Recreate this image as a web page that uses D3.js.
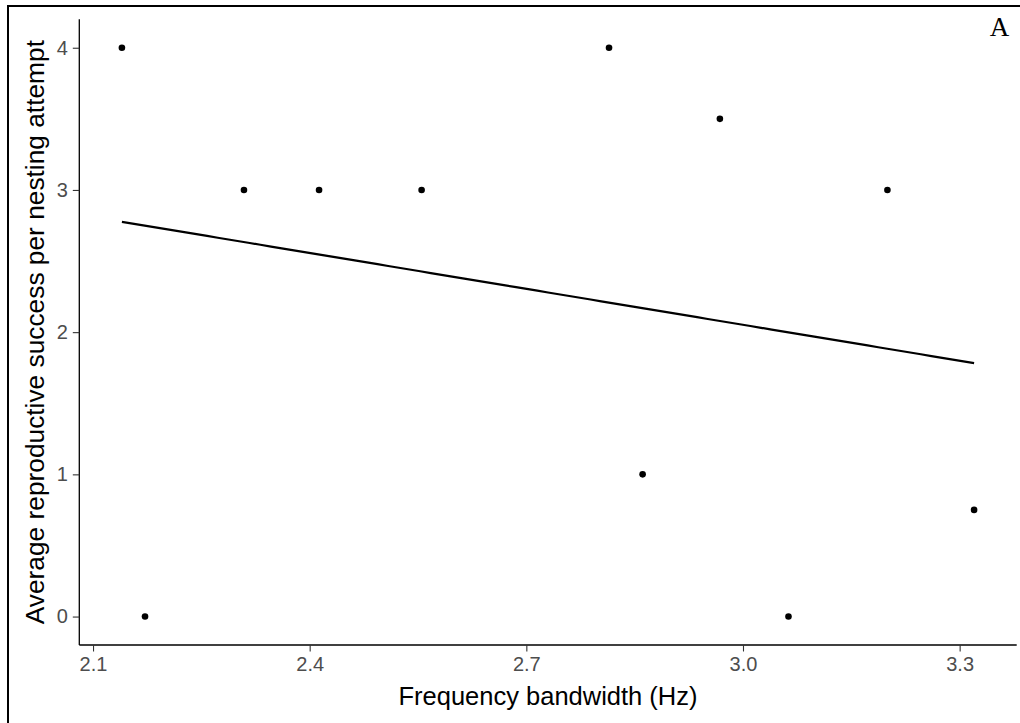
<!DOCTYPE html>
<html>
<head>
<meta charset="utf-8">
<script src="https://cdn.jsdelivr.net/npm/d3@7"></script>
<style>
  html, body { margin: 0; padding: 0; background: #fff; }
  svg { display: block; }
</style>
</head>
<body>
<svg id="chart" width="1020" height="723"></svg>
<script>
// ---- data ----
const bandwidth = [2.140, 2.172, 2.309, 2.413, 2.555, 2.8145, 2.968, 3.200, 2.861, 3.063, 3.320];
const success   = [4, 0, 3, 3, 3, 4, 3.5, 3, 1, 0, 0.75];
const xTicks = [2.1, 2.4, 2.7, 3.0, 3.3];
const yTicks = [0, 1, 2, 3, 4];
const xTitle = "Frequency bandwidth (Hz)";
const yTitle = "Average reproductive success per nesting attempt";
const panelLabel = "A";

const svg = d3.select("#chart");
const W = 1020, H = 723;
const plot = { left: 79.3, right: 1016.7, top: 19.3, bottom: 645 };

// ggplot-style 5% expansion
const xmin = d3.min(bandwidth), xmax = d3.max(bandwidth);
const xr = xmax - xmin;
const x = d3.scaleLinear().domain([xmin - 0.05 * xr, xmax + 0.05 * xr]).range([plot.left, plot.right]);
const y = d3.scaleLinear().domain([-0.2, 4.2]).range([plot.bottom, plot.top]);

// frame
svg.append("line").attr("x1", 8).attr("x2", W).attr("y1", 6).attr("y2", 6)
  .attr("stroke", "#000").attr("stroke-width", 2);
svg.append("line").attr("x1", 8).attr("x2", 8).attr("y1", 5).attr("y2", H)
  .attr("stroke", "#000").attr("stroke-width", 2);

// axes
const fontSans = "'Liberation Sans', Arial, sans-serif";
const xAxis = d3.axisBottom(x).tickValues(xTicks).tickFormat(d3.format(".1f")).tickSize(6.5).tickPadding(5);
const yAxis = d3.axisLeft(y).tickValues(yTicks).tickFormat(d3.format("d")).tickSize(6.5).tickPadding(5);

const gx = svg.append("g").attr("transform", `translate(0,${plot.bottom})`).call(xAxis);
const gy = svg.append("g").attr("transform", `translate(${plot.left},0)`).call(yAxis);
[gx, gy].forEach(g => {
  g.select(".domain").attr("stroke", "#000").attr("stroke-width", 1.3);
  g.selectAll(".tick line").attr("stroke", "#333").attr("stroke-width", 1.1);
  g.selectAll(".tick text").attr("fill", "#4D4D4D").style("font-family", fontSans).style("font-size", "20px");
});
gx.select(".domain").attr("d", `M${plot.left},0H${plot.right}`);
gy.select(".domain").attr("d", `M0,${plot.top}V${plot.bottom}`);

// titles
svg.append("text").attr("x", (plot.left + plot.right) / 2).attr("y", 705)
  .attr("text-anchor", "middle").style("font-family", fontSans).style("font-size", "25.5px")
  .attr("fill", "#000").text(xTitle);
svg.append("text").attr("transform", `translate(43.5,${(plot.top + plot.bottom) / 2}) rotate(-90)`)
  .attr("text-anchor", "middle").style("font-family", fontSans).style("font-size", "26.3px")
  .attr("fill", "#000").text(yTitle);

// panel label
svg.append("text").attr("x", 999.5).attr("y", 36).attr("text-anchor", "middle")
  .style("font-family", "'Liberation Serif', 'Times New Roman', serif").style("font-size", "27px")
  .attr("fill", "#000").text(panelLabel);

// linear fit (OLS) from the data
const mx = d3.mean(bandwidth), my = d3.mean(success);
let sxy = 0, sxx = 0;
bandwidth.forEach((v, i) => { sxy += (v - mx) * (success[i] - my); sxx += (v - mx) * (v - mx); });
const slope = sxy / sxx, intercept = my - slope * mx;
const fitX = d3.range(0, 81).map(i => xmin + (xr * i) / 80);
const line = d3.line().x(d => x(d)).y(d => y(intercept + slope * d));
svg.append("path").datum(fitX).attr("d", line).attr("fill", "none")
  .attr("stroke", "#000").attr("stroke-width", 2.2);

// points
svg.append("g").selectAll("circle").data(bandwidth.map((v, i) => [v, success[i]])).join("circle")
  .attr("cx", d => x(d[0])).attr("cy", d => y(d[1])).attr("r", 3.3).attr("fill", "#000");
</script>
</body>
</html>
